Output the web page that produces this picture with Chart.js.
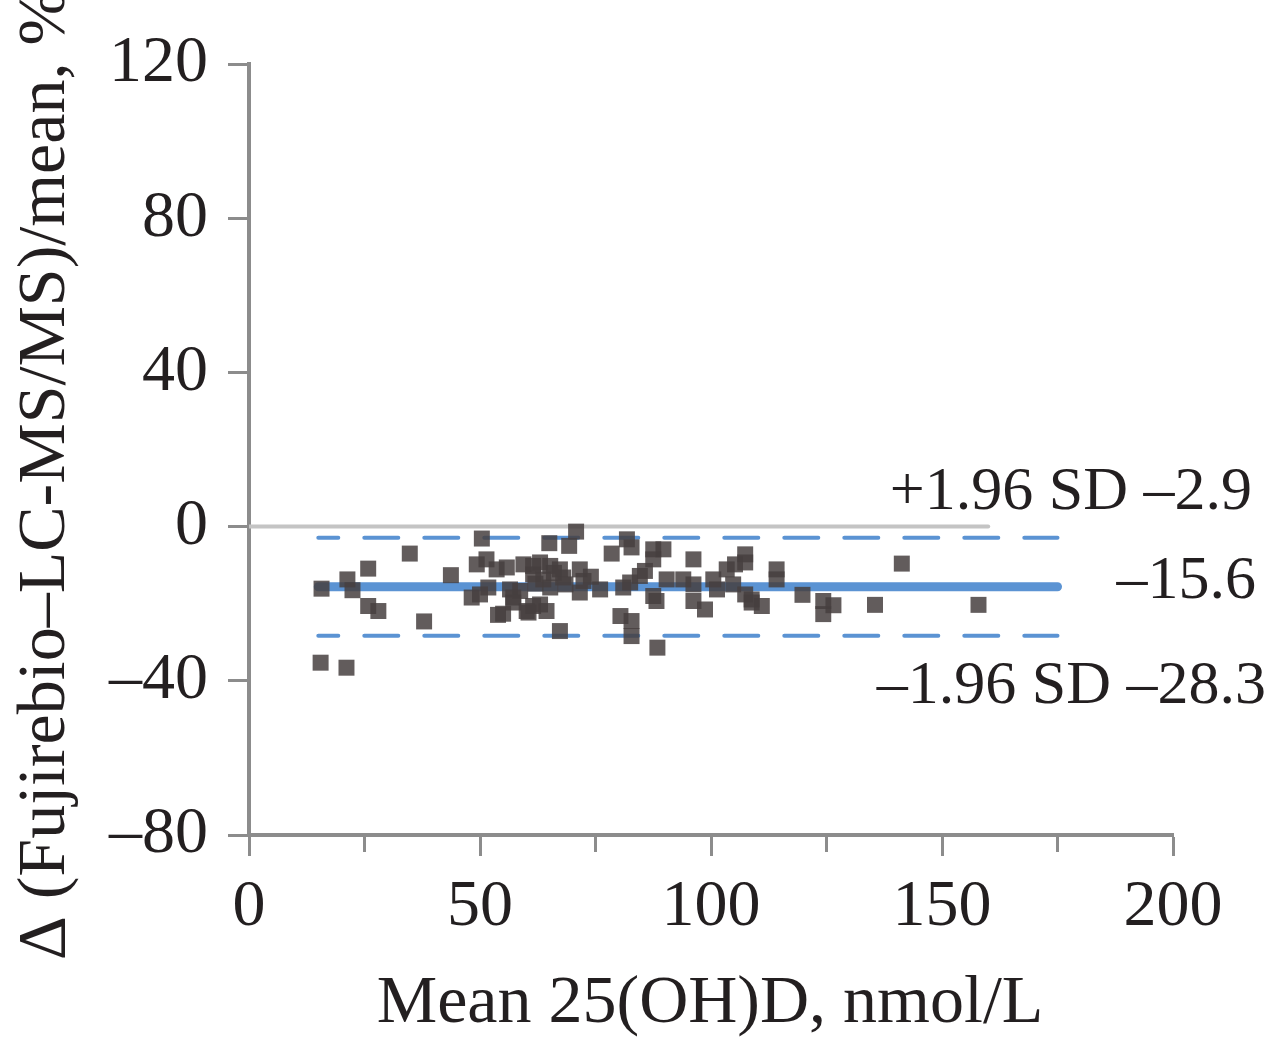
<!DOCTYPE html>
<html>
<head>
<meta charset="utf-8">
<script src="https://cdn.jsdelivr.net/npm/chart.js@4"></script>
<style>
  html, body { margin: 0; padding: 0; background: #fff; }
  #wrap { width: 1273px; height: 1038px; }
</style>
</head>
<body>
<div id="wrap"><canvas id="myChart"></canvas></div>
<script>
// Bland-Altman: mean 25(OH)D vs % difference
var meanX = [15.7, 21.3, 22.4, 25.8, 25.8, 28.0, 34.8, 37.9, 43.7, 50.4, 49.3, 51.4, 53.6, 48.2, 50.0, 51.8,
    56.5, 57.2, 53.9, 55.0, 59.4, 61.5, 60.5, 61.5, 15.5, 21.1, 70.8, 65.0, 69.3, 81.8, 82.8, 78.5,
    87.5, 89.7, 87.5, 96.2, 107.4, 105.2, 103.4, 55.8, 63.0, 65.2, 67.3, 71.6, 61.5, 63.7, 68.0, 72.4,
    58.7, 65.2, 71.6, 76.0, 57.2, 63.0, 60.1, 64.4, 67.3, 81.0, 82.5, 84.6, 85.7, 87.5, 88.2, 80.4,
    82.8, 82.8, 88.4, 90.4, 94.0, 96.2, 96.2, 98.7, 100.5, 101.3, 104.8, 107.4, 108.8, 107.4, 114.2, 114.2,
    108.8, 111.0, 119.8, 124.3, 124.3, 126.5, 135.5, 141.3, 157.9, 66.0, 68.5, 62.0, 74.0];
var pctDiff = [-16.1, -13.7, -16.5, -10.9, -20.6, -21.9, -7.0, -24.6, -12.6, -3.1, -9.8, -8.5, -11.1, -18.4, -17.6, -15.8,
    -16.3, -18.4, -22.9, -22.6, -9.8, -10.2, -22.3, -20.6, -35.3, -36.6, -1.3, -4.3, -5.0, -3.3, -5.4, -7.0,
    -5.9, -5.9, -8.5, -8.5, -7.2, -9.8, -11.1, -10.6, -9.3, -10.2, -11.1, -11.1, -12.4, -13.7, -13.2, -14.1,
    -16.7, -15.8, -17.1, -16.3, -19.7, -20.2, -21.9, -21.9, -27.1, -15.8, -14.5, -12.8, -11.5, -18.0, -19.3, -23.2,
    -24.5, -28.4, -31.4, -13.7, -13.7, -15.0, -19.3, -21.5, -13.7, -16.3, -15.0, -17.6, -19.7, -9.3, -11.1, -13.7,
    -18.9, -20.6, -17.7, -19.3, -22.7, -20.4, -20.3, -9.6, -20.3, -12.0, -15.0, -14.8, -13.0];

var biasMean = -15.6;
var upperLoA = -2.9;
var lowerLoA = -28.3;
var lineRange = [15, 175];
var zeroRange = [0, 160];

var xTicks = [0, 50, 100, 150, 200];
var yTicks = [-80, -40, 0, 40, 80, 120];

var serif = "'Liberation Serif', 'Times New Roman', serif";
var axisGrey = '#8c8c8c';
var blue = '#5b93d3';
var ink = '#231f20';

var points = meanX.map(function (x, i) { return { x: x, y: pctDiff[i] }; });
function hline(range, y) {
    return [{ x: range[0], y: y }, { x: range[1], y: y }];
}
function fmt(v) {
    return v < 0 ? '\u2013' + Math.abs(v) : String(v);
}

var textPlugin = {
    id: 'texts',
    afterDraw: function (chart) {
        var c = chart.ctx;
        var ys = chart.scales.y;
        c.save();
        c.fillStyle = ink;
        c.textBaseline = 'middle';

        // limits of agreement labels
        c.font = '62px ' + serif;
        c.textAlign = 'right';
        c.fillText('+1.96 SD ' + fmt(upperLoA), 1252, ys.getPixelForValue(upperLoA) - 45);
        c.fillText(fmt(biasMean), 1256, ys.getPixelForValue(biasMean) - 5);
        c.fillText('\u20131.96 SD ' + fmt(lowerLoA), 1266, ys.getPixelForValue(lowerLoA) + 51);

        // axis titles
        c.font = '68px ' + serif;
        c.textAlign = 'center';
        c.fillText('Mean 25(OH)D, nmol/L', 710, 1004);

        c.translate(46, 960);
        c.rotate(-Math.PI / 2);
        c.textAlign = 'left';
        c.fillText('\u0394 (Fujirebio\u2013LC-MS/MS)/mean, %', 0, 0);
        c.restore();
    }
};

var ctx = document.getElementById('myChart').getContext('2d');
var myChart = new Chart(ctx, {
    type: 'scatter',
    data: {
        datasets: [
            {
                label: 'Differences',
                data: points,
                pointStyle: 'rect',
                pointRadius: 11.3,
                pointHoverRadius: 11.3,
                pointBackgroundColor: 'rgba(70,64,64,0.85)',
                pointBorderWidth: 0,
                order: 0
            },
            {
                type: 'line',
                label: 'Zero',
                data: hline(zeroRange, 0),
                borderColor: '#c4c4c4',
                borderWidth: 4,
                borderCapStyle: 'round',
                pointRadius: 0,
                order: 2
            },
            {
                type: 'line',
                label: '+1.96 SD',
                data: hline(lineRange, upperLoA),
                borderColor: blue,
                borderWidth: 4,
                borderDash: [34, 26],
                borderDashOffset: 14,
                borderCapStyle: 'round',
                pointRadius: 0,
                order: 1
            },
            {
                type: 'line',
                label: 'Mean',
                data: hline(lineRange, biasMean),
                borderColor: blue,
                borderWidth: 9,
                borderCapStyle: 'round',
                pointRadius: 0,
                order: 1
            },
            {
                type: 'line',
                label: '-1.96 SD',
                data: hline(lineRange, lowerLoA),
                borderColor: blue,
                borderWidth: 4,
                borderDash: [34, 26],
                borderDashOffset: 14,
                borderCapStyle: 'round',
                pointRadius: 0,
                order: 1
            }
        ]
    },
    options: {
        responsive: true,
        maintainAspectRatio: false,
        animation: false,
        layout: {
            padding: { top: 64, right: 100, left: 0, bottom: 0 }
        },
        plugins: {
            legend: { display: false },
            tooltip: { enabled: false }
        },
        scales: {
            x: {
                type: 'linear',
                min: 0,
                max: 200,
                afterFit: function (s) { s.height = 203; },
                ticks: {
                    stepSize: 25,
                    padding: 12,
                    color: ink,
                    font: { family: serif, size: 66 },
                    maxRotation: 0,
                    callback: function (v) { return xTicks.indexOf(v) >= 0 ? String(v) : ''; }
                },
                grid: {
                    drawOnChartArea: false,
                    tickLength: 21,
                    tickWidth: 3,
                    tickColor: axisGrey,
                    tickBorderDash: function (c) {
                        return c.tick && xTicks.indexOf(c.tick.value) < 0 ? [15, 100] : [];
                    }
                },
                border: { color: axisGrey, width: 4 }
            },
            y: {
                type: 'linear',
                min: -80,
                max: 120,
                afterFit: function (s) { s.width = 249; },
                ticks: {
                    stepSize: 20,
                    padding: 20,
                    color: ink,
                    font: { family: serif, size: 66 },
                    callback: function (v) { return yTicks.indexOf(v) >= 0 ? fmt(v) : ''; }
                },
                grid: {
                    drawOnChartArea: false,
                    tickLength: 21,
                    tickWidth: 3,
                    tickColor: axisGrey,
                    tickBorderDash: function (c) {
                        return c.tick && yTicks.indexOf(c.tick.value) < 0 ? [15, 100] : [];
                    }
                },
                border: { color: axisGrey, width: 4 }
            }
        }
    },
    plugins: [textPlugin]
});
</script>
</body>
</html>
